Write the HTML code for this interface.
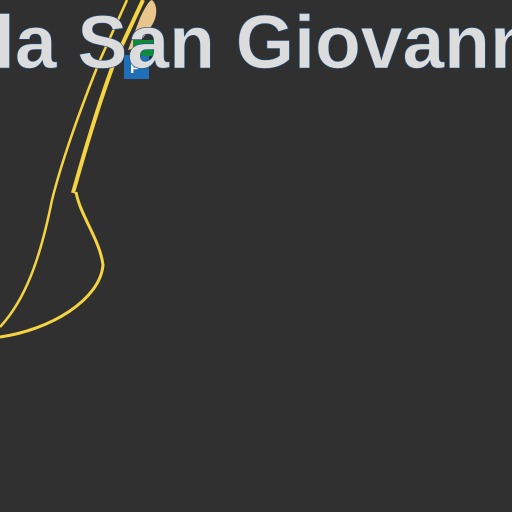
<!DOCTYPE html>
<html><head><style>
html,body{margin:0;padding:0;background:#303030;width:512px;height:512px;overflow:hidden}
svg{display:block}
</style></head><body>
<svg width="512" height="512" viewBox="0 0 512 512">
<rect width="512" height="512" fill="#303030"/>
<path d="M140,18 C146,5 150,0 152,0 C158,5 158,18 150,28 L136,48 L128,50 Z" fill="#e8c58a"/>
<path d="M127,0 L100,60 C80,110 62,160 52,200 C40,260 25,300 0,327" fill="none" stroke="#f5d443" stroke-width="2.5"/>
<path d="M143,0 L115,60 C100,100 85,150 73,193" fill="none" stroke="#f5d443" stroke-width="4"/>
<path d="M76,192 C80,215 100,240 103,265 C100,300 50,330 0,337" fill="none" stroke="#f5d443" stroke-width="3"/>
<rect x="124" y="55" width="25" height="24" fill="#1f6eb8"/>
<text x="130" y="73" fill="#fff" font-family="Liberation Sans, sans-serif" font-weight="bold" font-size="16">P</text>
<rect x="133" y="40" width="22" height="16" fill="#0f8a3c"/>
<text x="-6" y="68" fill="#dcdcdc" stroke="#1d4f8a" stroke-width="0.6" font-family="Liberation Sans, sans-serif" font-weight="bold" font-size="75">la San Giovanni</text>
</svg>
</body></html>
